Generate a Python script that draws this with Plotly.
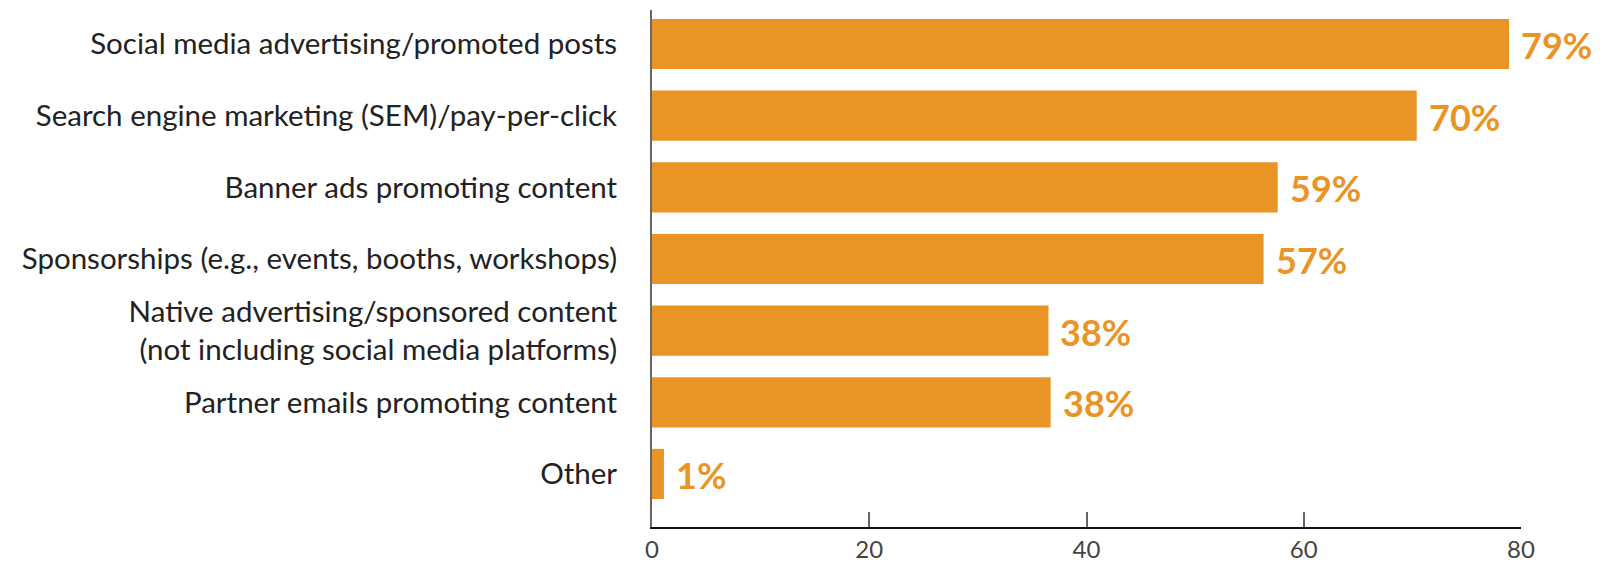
import plotly.graph_objects as go

categories = [
    "Social media advertising/promoted posts",
    "Search engine marketing (SEM)/pay-per-click",
    "Banner ads promoting content",
    "Sponsorships (e.g., events, booths, workshops)",
    "Native advertising/sponsored content<br>(not including social media platforms)",
    "Partner emails promoting content",
    "Other",
]
values = [78.9, 70.4, 57.6, 56.3, 36.5, 36.7, 1.1]
labels = ["79%", "70%", "59%", "57%", "38%", "38%", "1%"]
x_ticks = [0, 20, 40, 60, 80]

ORANGE = "#E99425"
FONT = "Lato"

fig = go.Figure()
fig.add_trace(go.Bar(
    x=values, y=categories, orientation="h",
    marker=dict(color=ORANGE, line=dict(width=0)),
    width=0.7, hoverinfo="skip",
))

for v, c, t in zip(values, categories, labels):
    fig.add_annotation(
        x=v, y=c, text=f"<b>{t}</b>", showarrow=False,
        xanchor="left", yanchor="middle", xshift=10, yshift=-1,
        font=dict(family=FONT, size=36, color=ORANGE),
    )

fig.update_layout(
    width=1624, height=564,
    margin=dict(l=652, r=103, t=10, b=37, autoexpand=False),
    plot_bgcolor="white", paper_bgcolor="white",
    showlegend=False,
    font=dict(family=FONT, color="#222222"),
    bargap=0.3,
)
fig.update_xaxes(
    range=[0, 80], tickvals=x_ticks, showgrid=False, zeroline=False,
    showline=True, linecolor="#111111", linewidth=2, automargin=False,
    ticks="inside", ticklen=15, tickwidth=2, tickcolor="#666666",
    tickfont=dict(family=FONT, size=24, color="#444444"),
)
fig.update_yaxes(
    type="category", categoryorder="array", categoryarray=categories,
    range=[6.74, -0.475], showgrid=False, zeroline=False, automargin=False,
    showline=True, linecolor="#666666", linewidth=2,
    ticks="", ticklabelstandoff=27,
    tickfont=dict(family=FONT, size=29.5, color="#222222"),
)

fig.write_html(
    "out.html",
    config={"displayModeBar": False},
    post_script="document.body.style.margin='0';document.body.style.overflow='hidden';",
)
